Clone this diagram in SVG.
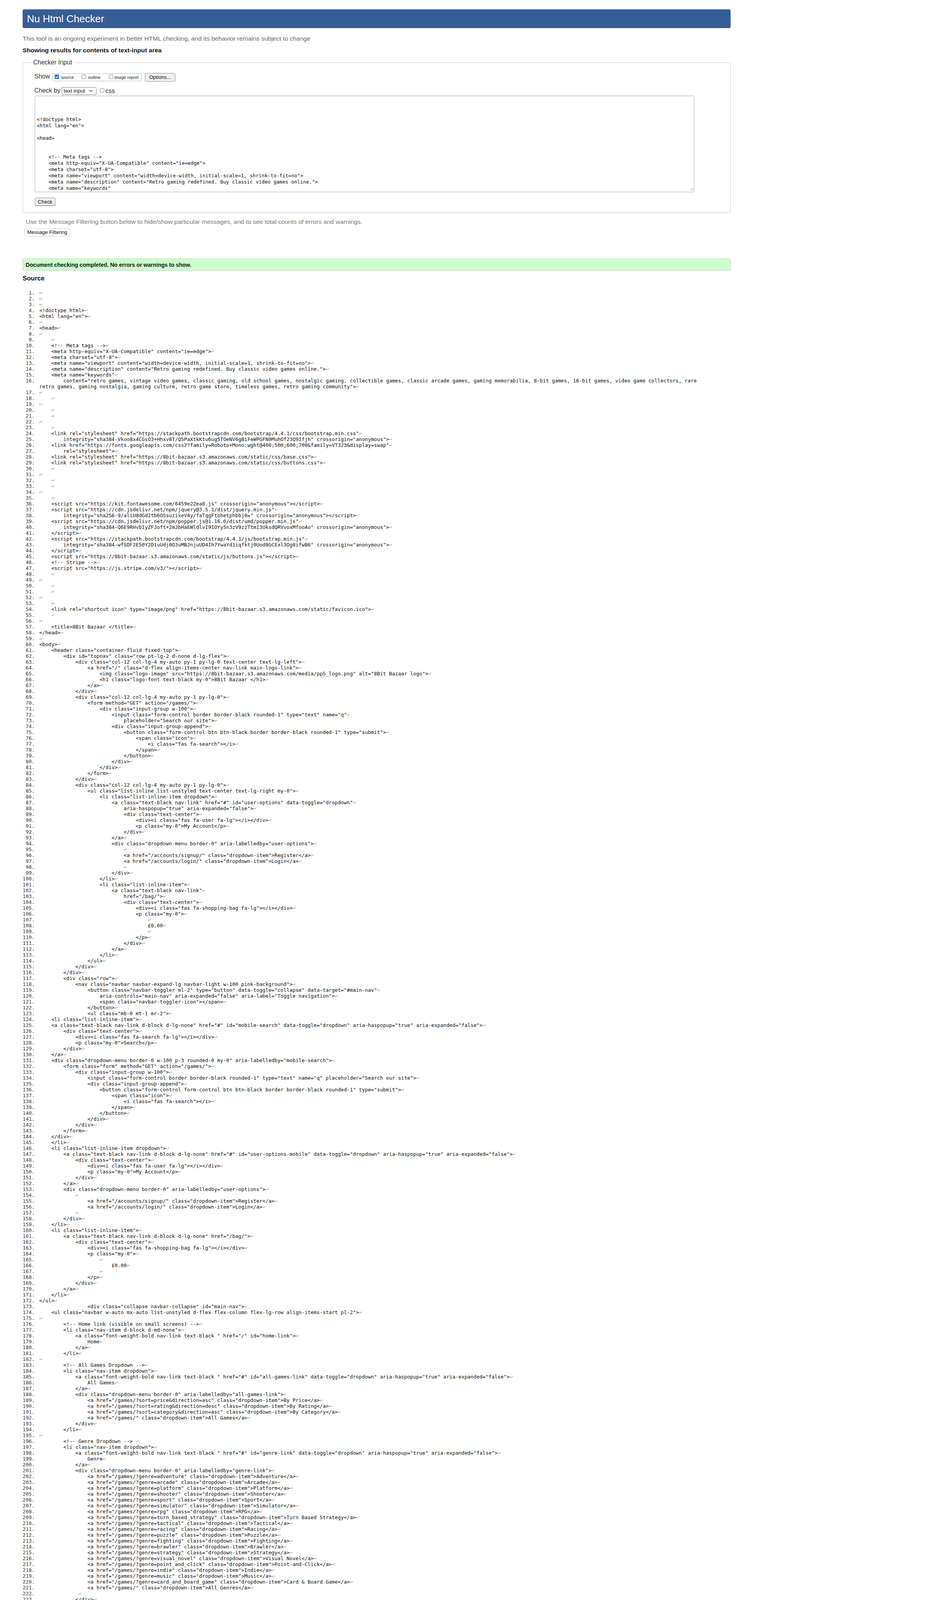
<svg xmlns="http://www.w3.org/2000/svg" width="2374" height="7690" viewBox="0 0 2374 7690">
<style>
.s{font-family:"Liberation Sans",Arial,sans-serif}
.c{font-family:"DejaVu Sans Mono","Liberation Mono",monospace;font-size:12.83px;fill:#111}
.n{font-family:"DejaVu Sans Mono","Liberation Mono",monospace;font-size:12.83px;fill:#333;text-anchor:end}
.ta{font-family:"DejaVu Sans Mono","Liberation Mono",monospace;font-size:12.6px;fill:#111}
.r{fill:#999}
.btn{fill:#efefef;stroke:#8f8f8f;stroke-width:1}
.cb{fill:#fff;stroke:#767676;stroke-width:1}
.gray{fill:#666}
.lnk{fill:#2b5ca8}
</style>
<rect width="2374" height="7690" fill="#fff"/>
<g id="header">
<rect x="58" y="24" width="1813" height="48" rx="4" fill="#365D95"/>
<text class="s" x="69" y="57" font-size="26" fill="#fff">Nu Html Checker</text>
</g>
<g id="intro">
<text class="s gray" x="58" y="104" font-size="15" textLength="737" lengthAdjust="spacingAndGlyphs">This tool is an ongoing experiment in better HTML checking, and its behavior remains subject to change</text>
<text class="s" x="58" y="134" font-size="15" font-weight="bold" fill="#111" textLength="356" lengthAdjust="spacingAndGlyphs">Showing results for contents of text-input area</text>
</g>
<g id="checker-input">
<rect x="58.5" y="160.5" width="1812" height="384" rx="3" fill="none" stroke="#ccc"/>
<rect x="82" y="152" width="108" height="16" fill="#fff"/>
<text class="s" x="85" y="165" font-size="16" fill="#333">Checker Input</text>
<text class="s" x="88" y="201" font-size="16" fill="#333">Show</text>
<rect x="134.5" y="188.5" width="228" height="19" rx="3" fill="none" stroke="#bbb"/>
<rect x="140" y="191" width="11" height="11" rx="2" fill="#0075ff"/>
<path d="M142.3 196.5 l2.4 2.5 l4.3 -5" fill="none" stroke="#fff" stroke-width="1.8"/>
<text class="s" x="156" y="202" font-size="11" fill="#222">source</text>
<rect class="cb" x="209.5" y="191.5" width="10" height="10" rx="2"/>
<text class="s" x="225" y="202" font-size="11" fill="#222">outline</text>
<rect class="cb" x="279.5" y="191.5" width="10" height="10" rx="2"/>
<text class="s" x="293" y="202" font-size="11" fill="#222">image report</text>
<rect class="btn" x="371.5" y="187.5" width="77" height="21" rx="2"/>
<text class="s" x="410" y="202" font-size="13" text-anchor="middle" fill="#111">Options...</text>
<text class="s" x="88" y="237" font-size="16" fill="#333">Check by</text>
<rect x="158.5" y="223.5" width="88" height="19" rx="2" fill="#fff" stroke="#767676"/>
<text class="s" x="163" y="237" font-size="13.5" fill="#111">text input</text>
<path d="M229.5 230.5 l3.5 3.5 l3.5 -3.5" fill="none" stroke="#222" stroke-width="1.3"/>
<rect class="cb" x="256.5" y="226.5" width="10" height="10" rx="2"/>
<text class="s" x="270" y="238" font-size="16" fill="#333">css</text>
<rect x="89.5" y="245.5" width="1688" height="246" rx="2" fill="#fff" stroke="#aaa"/>
<path d="M1767 488 l8 -8 M1771 488 l4 -4" stroke="#888" stroke-width="1"/>
<text class="ta" x="94" y="309.5">&lt;!doctype html&gt;</text>
<text class="ta" x="94" y="325.5">&lt;html lang="en"&gt;</text>
<text class="ta" x="94" y="357.5">&lt;head&gt;</text>
<text class="ta" x="124.2" y="405.5">&lt;!-- Meta tags --&gt;</text>
<text class="ta" x="124.2" y="421.5">&lt;meta http-equiv="X-UA-Compatible" content="ie=edge"&gt;</text>
<text class="ta" x="124.2" y="437.5">&lt;meta charset="utf-8"&gt;</text>
<text class="ta" x="124.2" y="453.5">&lt;meta name="viewport" content="width=device-width, initial-scale=1, shrink-to-fit=no"&gt;</text>
<text class="ta" x="124.2" y="469.5">&lt;meta name="description" content="Retro gaming redefined. Buy classic video games online."&gt;</text>
<text class="ta" x="124.2" y="485.5">&lt;meta name="keywords"</text>
<rect class="btn" x="89.5" y="506.5" width="52" height="20" rx="2"/>
<line x1="90" y1="526.5" x2="141" y2="526.5" stroke="#666"/>
<text class="s" x="115.5" y="521" font-size="13" text-anchor="middle" fill="#111">Check</text>
</g>
<g id="message-filtering">
<text class="s" x="66" y="573" font-size="15" fill="#777" textLength="862" lengthAdjust="spacingAndGlyphs">Use the Message Filtering button below to hide/show particular messages, and to see total counts of errors and warnings.</text>
<rect x="62.5" y="585.5" width="117" height="19" rx="4" fill="#fff" stroke="#ccc"/>
<text class="s" x="121" y="599" font-size="13" text-anchor="middle" fill="#111">Message Filtering</text>
</g>
<g id="status">
<rect x="58.5" y="662.5" width="1812" height="30" rx="3" fill="#ccffcc" stroke="#b3d9b3"/>
<text class="s" x="66" y="683" font-size="15" font-weight="bold" fill="#111" textLength="424" lengthAdjust="spacingAndGlyphs">Document checking completed. No errors or warnings to show.</text>
</g>
<g id="source">
<text class="s" x="58" y="718" font-size="16.5" font-weight="bold" fill="#111">Source</text>
<g id="line-numbers" class="n">
<text x="89" y="753.5">1.</text><text x="89" y="768.5">2.</text><text x="89" y="783.5">3.</text><text x="89" y="798.5">4.</text><text x="89" y="813.5">5.</text><text x="89" y="828.5">6.</text><text x="89" y="843.5">7.</text><text x="89" y="858.5">8.</text><text x="89" y="873.5">9.</text><text x="89" y="888.5">10.</text><text x="89" y="903.5">11.</text><text x="89" y="918.5">12.</text><text x="89" y="933.5">13.</text><text x="89" y="948.5">14.</text><text x="89" y="963.5">15.</text><text x="89" y="978.5">16.</text>
<text x="89" y="1008.5">17.</text><text x="89" y="1023.5">18.</text><text x="89" y="1038.5">19.</text><text x="89" y="1053.5">20.</text><text x="89" y="1068.5">21.</text><text x="89" y="1083.5">22.</text><text x="89" y="1098.5">23.</text><text x="89" y="1113.5">24.</text><text x="89" y="1128.5">25.</text><text x="89" y="1143.5">26.</text><text x="89" y="1158.5">27.</text><text x="89" y="1173.5">28.</text><text x="89" y="1188.5">29.</text><text x="89" y="1203.5">30.</text><text x="89" y="1218.5">31.</text><text x="89" y="1233.5">32.</text><text x="89" y="1248.5">33.</text><text x="89" y="1263.5">34.</text><text x="89" y="1278.5">35.</text><text x="89" y="1293.5">36.</text><text x="89" y="1308.5">37.</text><text x="89" y="1323.5">38.</text><text x="89" y="1338.5">39.</text><text x="89" y="1353.5">40.</text>
<text x="89" y="1368.5">41.</text><text x="89" y="1383.5">42.</text><text x="89" y="1398.5">43.</text><text x="89" y="1413.5">44.</text><text x="89" y="1428.5">45.</text><text x="89" y="1443.5">46.</text><text x="89" y="1458.5">47.</text><text x="89" y="1473.5">48.</text><text x="89" y="1488.5">49.</text><text x="89" y="1503.5">50.</text><text x="89" y="1518.5">51.</text><text x="89" y="1533.5">52.</text><text x="89" y="1548.5">53.</text><text x="89" y="1563.5">54.</text><text x="89" y="1578.5">55.</text><text x="89" y="1593.5">56.</text><text x="89" y="1608.5">57.</text><text x="89" y="1623.5">58.</text><text x="89" y="1638.5">59.</text><text x="89" y="1653.5">60.</text>
<text x="89" y="1668.5">61.</text><text x="89" y="1683.5">62.</text><text x="89" y="1698.5">63.</text><text x="89" y="1713.5">64.</text><text x="89" y="1728.5">65.</text><text x="89" y="1743.5">66.</text><text x="89" y="1758.5">67.</text><text x="89" y="1773.5">68.</text><text x="89" y="1788.5">69.</text><text x="89" y="1803.5">70.</text><text x="89" y="1818.5">71.</text><text x="89" y="1833.5">72.</text><text x="89" y="1848.5">73.</text><text x="89" y="1863.5">74.</text><text x="89" y="1878.5">75.</text><text x="89" y="1893.5">76.</text><text x="89" y="1908.5">77.</text><text x="89" y="1923.5">78.</text><text x="89" y="1938.5">79.</text><text x="89" y="1953.5">80.</text>
<text x="89" y="1968.5">81.</text><text x="89" y="1983.5">82.</text><text x="89" y="1998.5">83.</text><text x="89" y="2013.5">84.</text><text x="89" y="2028.5">85.</text><text x="89" y="2043.5">86.</text><text x="89" y="2058.5">87.</text><text x="89" y="2073.5">88.</text><text x="89" y="2088.5">89.</text><text x="89" y="2103.5">90.</text><text x="89" y="2118.5">91.</text><text x="89" y="2133.5">92.</text><text x="89" y="2148.5">93.</text><text x="89" y="2163.5">94.</text><text x="89" y="2178.5">95.</text><text x="89" y="2193.5">96.</text><text x="89" y="2208.5">97.</text><text x="89" y="2223.5">98.</text><text x="89" y="2238.5">99.</text><text x="89" y="2253.5">100.</text>
<text x="89" y="2268.5">101.</text><text x="89" y="2283.5">102.</text><text x="89" y="2298.5">103.</text><text x="89" y="2313.5">104.</text><text x="89" y="2328.5">105.</text><text x="89" y="2343.5">106.</text><text x="89" y="2358.5">107.</text><text x="89" y="2373.5">108.</text><text x="89" y="2388.5">109.</text><text x="89" y="2403.5">110.</text><text x="89" y="2418.5">111.</text><text x="89" y="2433.5">112.</text><text x="89" y="2448.5">113.</text><text x="89" y="2463.5">114.</text><text x="89" y="2478.5">115.</text><text x="89" y="2493.5">116.</text><text x="89" y="2508.5">117.</text><text x="89" y="2523.5">118.</text><text x="89" y="2538.5">119.</text><text x="89" y="2553.5">120.</text>
<text x="89" y="2568.5">121.</text><text x="89" y="2583.5">122.</text><text x="89" y="2598.5">123.</text><text x="89" y="2613.5">124.</text><text x="89" y="2628.5">125.</text><text x="89" y="2643.5">126.</text><text x="89" y="2658.5">127.</text><text x="89" y="2673.5">128.</text><text x="89" y="2688.5">129.</text><text x="89" y="2703.5">130.</text><text x="89" y="2718.5">131.</text><text x="89" y="2733.5">132.</text><text x="89" y="2748.5">133.</text><text x="89" y="2763.5">134.</text><text x="89" y="2778.5">135.</text><text x="89" y="2793.5">136.</text><text x="89" y="2808.5">137.</text><text x="89" y="2823.5">138.</text><text x="89" y="2838.5">139.</text><text x="89" y="2853.5">140.</text>
<text x="89" y="2868.5">141.</text><text x="89" y="2883.5">142.</text><text x="89" y="2898.5">143.</text><text x="89" y="2913.5">144.</text><text x="89" y="2928.5">145.</text><text x="89" y="2943.5">146.</text><text x="89" y="2958.5">147.</text><text x="89" y="2973.5">148.</text><text x="89" y="2988.5">149.</text><text x="89" y="3003.5">150.</text><text x="89" y="3018.5">151.</text><text x="89" y="3033.5">152.</text><text x="89" y="3048.5">153.</text><text x="89" y="3063.5">154.</text><text x="89" y="3078.5">155.</text><text x="89" y="3093.5">156.</text><text x="89" y="3108.5">157.</text><text x="89" y="3123.5">158.</text><text x="89" y="3138.5">159.</text><text x="89" y="3153.5">160.</text>
<text x="89" y="3168.5">161.</text><text x="89" y="3183.5">162.</text><text x="89" y="3198.5">163.</text><text x="89" y="3213.5">164.</text><text x="89" y="3228.5">165.</text><text x="89" y="3243.5">166.</text><text x="89" y="3258.5">167.</text><text x="89" y="3273.5">168.</text><text x="89" y="3288.5">169.</text><text x="89" y="3303.5">170.</text><text x="89" y="3318.5">171.</text><text x="89" y="3333.5">172.</text><text x="89" y="3348.5">173.</text><text x="89" y="3363.5">174.</text><text x="89" y="3378.5">175.</text><text x="89" y="3393.5">176.</text><text x="89" y="3408.5">177.</text><text x="89" y="3423.5">178.</text><text x="89" y="3438.5">179.</text><text x="89" y="3453.5">180.</text>
<text x="89" y="3468.5">181.</text><text x="89" y="3483.5">182.</text><text x="89" y="3498.5">183.</text><text x="89" y="3513.5">184.</text><text x="89" y="3528.5">185.</text><text x="89" y="3543.5">186.</text><text x="89" y="3558.5">187.</text><text x="89" y="3573.5">188.</text><text x="89" y="3588.5">189.</text><text x="89" y="3603.5">190.</text><text x="89" y="3618.5">191.</text><text x="89" y="3633.5">192.</text><text x="89" y="3648.5">193.</text><text x="89" y="3663.5">194.</text><text x="89" y="3678.5">195.</text><text x="89" y="3693.5">196.</text><text x="89" y="3708.5">197.</text><text x="89" y="3723.5">198.</text><text x="89" y="3738.5">199.</text><text x="89" y="3753.5">200.</text>
<text x="89" y="3768.5">201.</text><text x="89" y="3783.5">202.</text><text x="89" y="3798.5">203.</text><text x="89" y="3813.5">204.</text><text x="89" y="3828.5">205.</text><text x="89" y="3843.5">206.</text><text x="89" y="3858.5">207.</text><text x="89" y="3873.5">208.</text><text x="89" y="3888.5">209.</text><text x="89" y="3903.5">210.</text><text x="89" y="3918.5">211.</text><text x="89" y="3933.5">212.</text><text x="89" y="3948.5">213.</text><text x="89" y="3963.5">214.</text><text x="89" y="3978.5">215.</text><text x="89" y="3993.5">216.</text><text x="89" y="4008.5">217.</text><text x="89" y="4023.5">218.</text><text x="89" y="4038.5">219.</text><text x="89" y="4053.5">220.</text>
<text x="89" y="4068.5">221.</text><text x="89" y="4083.5">222.</text><text x="89" y="4098.5">223.</text><text x="89" y="4113.5">224.</text><text x="89" y="4128.5">225.</text><text x="89" y="4143.5">226.</text><text x="89" y="4158.5">227.</text><text x="89" y="4173.5">228.</text><text x="89" y="4188.5">229.</text><text x="89" y="4203.5">230.</text><text x="89" y="4218.5">231.</text><text x="89" y="4233.5">232.</text><text x="89" y="4248.5">233.</text><text x="89" y="4263.5">234.</text><text x="89" y="4278.5">235.</text><text x="89" y="4293.5">236.</text><text x="89" y="4308.5">237.</text><text x="89" y="4323.5">238.</text><text x="89" y="4338.5">239.</text><text x="89" y="4353.5">240.</text>
<text x="89" y="4368.5">241.</text><text x="89" y="4383.5">242.</text><text x="89" y="4398.5">243.</text><text x="89" y="4413.5">244.</text><text x="89" y="4428.5">245.</text><text x="89" y="4443.5">246.</text><text x="89" y="4458.5">247.</text><text x="89" y="4473.5">248.</text><text x="89" y="4488.5">249.</text><text x="89" y="4503.5">250.</text><text x="89" y="4518.5">251.</text><text x="89" y="4533.5">252.</text><text x="89" y="4548.5">253.</text><text x="89" y="4563.5">254.</text><text x="89" y="4578.5">255.</text><text x="89" y="4593.5">256.</text><text x="89" y="4608.5">257.</text><text x="89" y="4623.5">258.</text><text x="89" y="4638.5">259.</text><text x="89" y="4653.5">260.</text>
<text x="89" y="4668.5">261.</text><text x="89" y="4683.5">262.</text><text x="89" y="4698.5">263.</text><text x="89" y="4713.5">264.</text><text x="89" y="4728.5">265.</text><text x="89" y="4743.5">266.</text><text x="89" y="4758.5">267.</text><text x="89" y="4773.5">268.</text><text x="89" y="4788.5">269.</text><text x="89" y="4803.5">270.</text><text x="89" y="4818.5">271.</text><text x="89" y="4833.5">272.</text><text x="89" y="4848.5">273.</text><text x="89" y="4863.5">274.</text><text x="89" y="4878.5">275.</text><text x="89" y="4893.5">276.</text><text x="89" y="4908.5">277.</text><text x="89" y="4923.5">278.</text><text x="89" y="4938.5">279.</text><text x="89" y="4953.5">280.</text>
<text x="89" y="4968.5">281.</text><text x="89" y="4983.5">282.</text><text x="89" y="4998.5">283.</text><text x="89" y="5013.5">284.</text><text x="89" y="5028.5">285.</text><text x="89" y="5043.5">286.</text><text x="89" y="5058.5">287.</text><text x="89" y="5073.5">288.</text><text x="89" y="5088.5">289.</text><text x="89" y="5103.5">290.</text><text x="89" y="5118.5">291.</text><text x="89" y="5133.5">292.</text><text x="89" y="5148.5">293.</text><text x="89" y="5163.5">294.</text><text x="89" y="5178.5">295.</text><text x="89" y="5193.5">296.</text><text x="89" y="5208.5">297.</text><text x="89" y="5223.5">298.</text><text x="89" y="5238.5">299.</text><text x="89" y="5253.5">300.</text>
<text x="89" y="5268.5">301.</text><text x="89" y="5283.5">302.</text><text x="89" y="5298.5">303.</text><text x="89" y="5313.5">304.</text><text x="89" y="5328.5">305.</text><text x="89" y="5343.5">306.</text><text x="89" y="5358.5">307.</text><text x="89" y="5373.5">308.</text><text x="89" y="5388.5">309.</text><text x="89" y="5403.5">310.</text><text x="89" y="5418.5">311.</text><text x="89" y="5433.5">312.</text><text x="89" y="5448.5">313.</text><text x="89" y="5463.5">314.</text><text x="89" y="5478.5">315.</text><text x="89" y="5493.5">316.</text><text x="89" y="5508.5">317.</text><text x="89" y="5523.5">318.</text><text x="89" y="5538.5">319.</text><text x="89" y="5553.5">320.</text>
<text x="89" y="5568.5">321.</text><text x="89" y="5583.5">322.</text><text x="89" y="5598.5">323.</text><text x="89" y="5613.5">324.</text><text x="89" y="5628.5">325.</text><text x="89" y="5643.5">326.</text><text x="89" y="5658.5">327.</text><text x="89" y="5673.5">328.</text><text x="89" y="5688.5">329.</text><text x="89" y="5703.5">330.</text><text x="89" y="5718.5">331.</text><text x="89" y="5733.5">332.</text><text x="89" y="5748.5">333.</text><text x="89" y="5763.5">334.</text><text x="89" y="5778.5">335.</text><text x="89" y="5793.5">336.</text><text x="89" y="5808.5">337.</text><text x="89" y="5823.5">338.</text><text x="89" y="5838.5">339.</text><text x="89" y="5853.5">340.</text>
<text x="89" y="5868.5">341.</text><text x="89" y="5883.5">342.</text><text x="89" y="5898.5">343.</text>
</g>
<g id="code" class="c">
<text x="100.5" y="753.5"><tspan class="r">↩</tspan></text>
<text x="100.5" y="768.5"><tspan class="r">↩</tspan></text>
<text x="100.5" y="783.5"><tspan class="r">↩</tspan></text>
<text x="100.5" y="798.5">&lt;!doctype html&gt;<tspan class="r">↩</tspan></text>
<text x="100.5" y="813.5">&lt;html lang="en"&gt;<tspan class="r">↩</tspan></text>
<text x="100.5" y="828.5"><tspan class="r">↩</tspan></text>
<text x="100.5" y="843.5">&lt;head&gt;<tspan class="r">↩</tspan></text>
<text x="100.5" y="858.5"><tspan class="r">↩</tspan></text>
<text x="131.4" y="873.5"><tspan class="r">↩</tspan></text>
<text x="131.4" y="888.5">&lt;!-- Meta tags --&gt;<tspan class="r">↩</tspan></text>
<text x="131.4" y="903.5">&lt;meta http-equiv="X-UA-Compatible" content="ie=edge"&gt;<tspan class="r">↩</tspan></text>
<text x="131.4" y="918.5">&lt;meta charset="utf-8"&gt;<tspan class="r">↩</tspan></text>
<text x="131.4" y="933.5">&lt;meta name="viewport" content="width=device-width, initial-scale=1, shrink-to-fit=no"&gt;<tspan class="r">↩</tspan></text>
<text x="131.4" y="948.5">&lt;meta name="description" content="Retro gaming redefined. Buy classic video games online."&gt;<tspan class="r">↩</tspan></text>
<text x="131.4" y="963.5">&lt;meta name="keywords"<tspan class="r">↩</tspan></text>
<text x="162.3" y="978.5">content="retro games, vintage video games, classic gaming, old school games, nostalgic gaming, collectible games, classic arcade games, gaming memorabilia, 8-bit games, 16-bit games, video game collectors, rare</text>
<text x="100.5" y="993.5">retro games, gaming nostalgia, gaming culture, retro game store, timeless games, retro gaming community"&gt;<tspan class="r">↩</tspan></text>
<text x="100.5" y="1008.5"><tspan class="r">↩</tspan></text>
<text x="131.4" y="1023.5"><tspan class="r">↩</tspan></text>
<text x="100.5" y="1038.5"><tspan class="r">↩</tspan></text>
<text x="131.4" y="1053.5"><tspan class="r">↩</tspan></text>
<text x="131.4" y="1068.5"><tspan class="r">↩</tspan></text>
<text x="100.5" y="1083.5"><tspan class="r">↩</tspan></text>
<text x="131.4" y="1098.5"><tspan class="r">↩</tspan></text>
<text x="131.4" y="1113.5">&lt;link rel="stylesheet" href="https://stackpath.bootstrapcdn.com/bootstrap/4.4.1/css/bootstrap.min.css"<tspan class="r">↩</tspan></text>
<text x="162.3" y="1128.5">integrity="sha384-Vkoo8x4CGsO3+Hhxv8T/Q5PaXtkKtu6ug5TOeNV6gBiFeWPGFN9MuhOf23Q9Ifjh" crossorigin="anonymous"&gt;<tspan class="r">↩</tspan></text>
<text x="131.4" y="1143.5">&lt;link href="https://fonts.googleapis.com/css2?family=Roboto+Mono:wght@400;500;600;700&amp;family=VT323&amp;display=swap"<tspan class="r">↩</tspan></text>
<text x="162.3" y="1158.5">rel="stylesheet"&gt;<tspan class="r">↩</tspan></text>
<text x="131.4" y="1173.5">&lt;link rel="stylesheet" href="https://8bit-bazaar.s3.amazonaws.com/static/css/base.css"&gt;<tspan class="r">↩</tspan></text>
<text x="131.4" y="1188.5">&lt;link rel="stylesheet" href="https://8bit-bazaar.s3.amazonaws.com/static/css/buttons.css"&gt;<tspan class="r">↩</tspan></text>
<text x="131.4" y="1203.5"><tspan class="r">↩</tspan></text>
<text x="100.5" y="1218.5"><tspan class="r">↩</tspan></text>
<text x="131.4" y="1233.5"><tspan class="r">↩</tspan></text>
<text x="131.4" y="1248.5"><tspan class="r">↩</tspan></text>
<text x="100.5" y="1263.5"><tspan class="r">↩</tspan></text>
<text x="131.4" y="1278.5"><tspan class="r">↩</tspan></text>
<text x="131.4" y="1293.5">&lt;script src="https://kit.fontawesome.com/6459e22ea8.js" crossorigin="anonymous"&gt;&lt;/script&gt;<tspan class="r">↩</tspan></text>
<text x="131.4" y="1308.5">&lt;script src="https://cdn.jsdelivr.net/npm/jquery@3.5.1/dist/jquery.min.js"<tspan class="r">↩</tspan></text>
<text x="162.3" y="1323.5">integrity="sha256-9/aliU8dGd2tb6OSsuzixeV4y/faTqgFtohetphbbj0=" crossorigin="anonymous"&gt;&lt;/script&gt;<tspan class="r">↩</tspan></text>
<text x="131.4" y="1338.5">&lt;script src="https://cdn.jsdelivr.net/npm/popper.js@1.16.0/dist/umd/popper.min.js"<tspan class="r">↩</tspan></text>
<text x="162.3" y="1353.5">integrity="sha384-Q6E9RHvbIyZFJoft+2mJbHaEWldlvI9IOYy5n3zV9zzTtmI3UksdQRVvoxMfooAo" crossorigin="anonymous"&gt;<tspan class="r">↩</tspan></text>
<text x="131.4" y="1368.5">&lt;/script&gt;<tspan class="r">↩</tspan></text>
<text x="131.4" y="1383.5">&lt;script src="https://stackpath.bootstrapcdn.com/bootstrap/4.4.1/js/bootstrap.min.js"<tspan class="r">↩</tspan></text>
<text x="162.3" y="1398.5">integrity="sha384-wfSDF2E50Y2D1uUdj0O3uMBJnjuUD4Ih7YwaYd1iqfktj0Uod8GCExl3Og8ifwB6" crossorigin="anonymous"&gt;<tspan class="r">↩</tspan></text>
<text x="131.4" y="1413.5">&lt;/script&gt;<tspan class="r">↩</tspan></text>
<text x="131.4" y="1428.5">&lt;script src="https://8bit-bazaar.s3.amazonaws.com/static/js/buttons.js"&gt;&lt;/script&gt;<tspan class="r">↩</tspan></text>
<text x="131.4" y="1443.5">&lt;!-- Stripe --&gt;<tspan class="r">↩</tspan></text>
<text x="131.4" y="1458.5">&lt;script src="https://js.stripe.com/v3/"&gt;&lt;/script&gt;<tspan class="r">↩</tspan></text>
<text x="131.4" y="1473.5"><tspan class="r">↩</tspan></text>
<text x="100.5" y="1488.5"><tspan class="r">↩</tspan></text>
<text x="131.4" y="1503.5"><tspan class="r">↩</tspan></text>
<text x="131.4" y="1518.5"><tspan class="r">↩</tspan></text>
<text x="100.5" y="1533.5"><tspan class="r">↩</tspan></text>
<text x="131.4" y="1548.5"><tspan class="r">↩</tspan></text>
<text x="131.4" y="1563.5">&lt;link rel="shortcut icon" type="image/png" href="https://8bit-bazaar.s3.amazonaws.com/static/favicon.ico"&gt;<tspan class="r">↩</tspan></text>
<text x="131.4" y="1578.5"><tspan class="r">↩</tspan></text>
<text x="100.5" y="1593.5"><tspan class="r">↩</tspan></text>
<text x="131.4" y="1608.5">&lt;title&gt;8Bit Bazaar &lt;/title&gt;<tspan class="r">↩</tspan></text>
<text x="100.5" y="1623.5">&lt;/head&gt;<tspan class="r">↩</tspan></text>
<text x="100.5" y="1638.5"><tspan class="r">↩</tspan></text>
<text x="100.5" y="1653.5">&lt;body&gt;<tspan class="r">↩</tspan></text>
<text x="131.4" y="1668.5">&lt;header class="container-fluid fixed-top"&gt;<tspan class="r">↩</tspan></text>
<text x="162.3" y="1683.5">&lt;div id="topnav" class="row pt-lg-2 d-none d-lg-flex"&gt;<tspan class="r">↩</tspan></text>
<text x="193.1" y="1698.5">&lt;div class="col-12 col-lg-4 my-auto py-1 py-lg-0 text-center text-lg-left"&gt;<tspan class="r">↩</tspan></text>
<text x="224" y="1713.5">&lt;a href="/" class="d-flex align-items-center nav-link main-logo-link"&gt;<tspan class="r">↩</tspan></text>
<text x="254.9" y="1728.5">&lt;img class="logo-image" src="https://8bit-bazaar.s3.amazonaws.com/media/pp5_logo.png" alt="8Bit Bazaar logo"&gt;<tspan class="r">↩</tspan></text>
<text x="254.9" y="1743.5">&lt;h1 class="logo-font text-black my-0"&gt;8Bit Bazaar &lt;/h1&gt;<tspan class="r">↩</tspan></text>
<text x="224" y="1758.5">&lt;/a&gt;<tspan class="r">↩</tspan></text>
<text x="193.1" y="1773.5">&lt;/div&gt;<tspan class="r">↩</tspan></text>
<text x="193.1" y="1788.5">&lt;div class="col-12 col-lg-4 my-auto py-1 py-lg-0"&gt;<tspan class="r">↩</tspan></text>
<text x="224" y="1803.5">&lt;form method="GET" action="/games/"&gt;<tspan class="r">↩</tspan></text>
<text x="254.9" y="1818.5">&lt;div class="input-group w-100"&gt;<tspan class="r">↩</tspan></text>
<text x="285.8" y="1833.5">&lt;input class="form-control border border-black rounded-1" type="text" name="q"<tspan class="r">↩</tspan></text>
<text x="316.7" y="1848.5">placeholder="Search our site"&gt;<tspan class="r">↩</tspan></text>
<text x="285.8" y="1863.5">&lt;div class="input-group-append"&gt;<tspan class="r">↩</tspan></text>
<text x="316.7" y="1878.5">&lt;button class="form-control btn btn-black border border-black rounded-1" type="submit"&gt;<tspan class="r">↩</tspan></text>
<text x="347.5" y="1893.5">&lt;span class="icon"&gt;<tspan class="r">↩</tspan></text>
<text x="378.4" y="1908.5">&lt;i class="fas fa-search"&gt;&lt;/i&gt;<tspan class="r">↩</tspan></text>
<text x="347.5" y="1923.5">&lt;/span&gt;<tspan class="r">↩</tspan></text>
<text x="316.7" y="1938.5">&lt;/button&gt;<tspan class="r">↩</tspan></text>
<text x="285.8" y="1953.5">&lt;/div&gt;<tspan class="r">↩</tspan></text>
<text x="254.9" y="1968.5">&lt;/div&gt;<tspan class="r">↩</tspan></text>
<text x="224" y="1983.5">&lt;/form&gt;<tspan class="r">↩</tspan></text>
<text x="193.1" y="1998.5">&lt;/div&gt;<tspan class="r">↩</tspan></text>
<text x="193.1" y="2013.5">&lt;div class="col-12 col-lg-4 my-auto py-1 py-lg-0"&gt;<tspan class="r">↩</tspan></text>
<text x="224" y="2028.5">&lt;ul class="list-inline list-unstyled text-center text-lg-right my-0"&gt;<tspan class="r">↩</tspan></text>
<text x="254.9" y="2043.5">&lt;li class="list-inline-item dropdown"&gt;<tspan class="r">↩</tspan></text>
<text x="285.8" y="2058.5">&lt;a class="text-black nav-link" href="#" id="user-options" data-toggle="dropdown"<tspan class="r">↩</tspan></text>
<text x="316.7" y="2073.5">aria-haspopup="true" aria-expanded="false"&gt;<tspan class="r">↩</tspan></text>
<text x="316.7" y="2088.5">&lt;div class="text-center"&gt;<tspan class="r">↩</tspan></text>
<text x="347.5" y="2103.5">&lt;div&gt;&lt;i class="fas fa-user fa-lg"&gt;&lt;/i&gt;&lt;/div&gt;<tspan class="r">↩</tspan></text>
<text x="347.5" y="2118.5">&lt;p class="my-0"&gt;My Account&lt;/p&gt;<tspan class="r">↩</tspan></text>
<text x="316.7" y="2133.5">&lt;/div&gt;<tspan class="r">↩</tspan></text>
<text x="285.8" y="2148.5">&lt;/a&gt;<tspan class="r">↩</tspan></text>
<text x="285.8" y="2163.5">&lt;div class="dropdown-menu border-0" aria-labelledby="user-options"&gt;<tspan class="r">↩</tspan></text>
<text x="316.7" y="2178.5"><tspan class="r">↩</tspan></text>
<text x="316.7" y="2193.5">&lt;a href="/accounts/signup/" class="dropdown-item"&gt;Register&lt;/a&gt;<tspan class="r">↩</tspan></text>
<text x="316.7" y="2208.5">&lt;a href="/accounts/login/" class="dropdown-item"&gt;Login&lt;/a&gt;<tspan class="r">↩</tspan></text>
<text x="316.7" y="2223.5"><tspan class="r">↩</tspan></text>
<text x="285.8" y="2238.5">&lt;/div&gt;<tspan class="r">↩</tspan></text>
<text x="254.9" y="2253.5">&lt;/li&gt;<tspan class="r">↩</tspan></text>
<text x="254.9" y="2268.5">&lt;li class="list-inline-item"&gt;<tspan class="r">↩</tspan></text>
<text x="285.8" y="2283.5">&lt;a class="text-black nav-link"<tspan class="r">↩</tspan></text>
<text x="316.7" y="2298.5">href="/bag/"&gt;<tspan class="r">↩</tspan></text>
<text x="316.7" y="2313.5">&lt;div class="text-center"&gt;<tspan class="r">↩</tspan></text>
<text x="347.5" y="2328.5">&lt;div&gt;&lt;i class="fas fa-shopping-bag fa-lg"&gt;&lt;/i&gt;&lt;/div&gt;<tspan class="r">↩</tspan></text>
<text x="347.5" y="2343.5">&lt;p class="my-0"&gt;<tspan class="r">↩</tspan></text>
<text x="378.4" y="2358.5"><tspan class="r">↩</tspan></text>
<text x="378.4" y="2373.5">£0.00<tspan class="r">↩</tspan></text>
<text x="378.4" y="2388.5"><tspan class="r">↩</tspan></text>
<text x="347.5" y="2403.5">&lt;/p&gt;<tspan class="r">↩</tspan></text>
<text x="316.7" y="2418.5">&lt;/div&gt;<tspan class="r">↩</tspan></text>
<text x="285.8" y="2433.5">&lt;/a&gt;<tspan class="r">↩</tspan></text>
<text x="254.9" y="2448.5">&lt;/li&gt;<tspan class="r">↩</tspan></text>
<text x="224" y="2463.5">&lt;/ul&gt;<tspan class="r">↩</tspan></text>
<text x="193.1" y="2478.5">&lt;/div&gt;<tspan class="r">↩</tspan></text>
<text x="162.3" y="2493.5">&lt;/div&gt;<tspan class="r">↩</tspan></text>
<text x="162.3" y="2508.5">&lt;div class="row"&gt;<tspan class="r">↩</tspan></text>
<text x="193.1" y="2523.5">&lt;nav class="navbar navbar-expand-lg navbar-light w-100 pink-background"&gt;<tspan class="r">↩</tspan></text>
<text x="224" y="2538.5">&lt;button class="navbar-toggler ml-2" type="button" data-toggle="collapse" data-target="#main-nav"<tspan class="r">↩</tspan></text>
<text x="254.9" y="2553.5">aria-controls="main-nav" aria-expanded="false" aria-label="Toggle navigation"&gt;<tspan class="r">↩</tspan></text>
<text x="254.9" y="2568.5">&lt;span class="navbar-toggler-icon"&gt;&lt;/span&gt;<tspan class="r">↩</tspan></text>
<text x="224" y="2583.5">&lt;/button&gt;<tspan class="r">↩</tspan></text>
<text x="224" y="2598.5">&lt;ul class="mb-0 mt-1 mr-2"&gt;<tspan class="r">↩</tspan></text>
<text x="131.4" y="2613.5">&lt;li class="list-inline-item"&gt;<tspan class="r">↩</tspan></text>
<text x="131.4" y="2628.5">&lt;a class="text-black nav-link d-block d-lg-none" href="#" id="mobile-search" data-toggle="dropdown" aria-haspopup="true" aria-expanded="false"&gt;<tspan class="r">↩</tspan></text>
<text x="162.3" y="2643.5">&lt;div class="text-center"&gt;<tspan class="r">↩</tspan></text>
<text x="193.1" y="2658.5">&lt;div&gt;&lt;i class="fas fa-search fa-lg"&gt;&lt;/i&gt;&lt;/div&gt;<tspan class="r">↩</tspan></text>
<text x="193.1" y="2673.5">&lt;p class="my-0"&gt;Search&lt;/p&gt;<tspan class="r">↩</tspan></text>
<text x="162.3" y="2688.5">&lt;/div&gt;<tspan class="r">↩</tspan></text>
<text x="131.4" y="2703.5">&lt;/a&gt;<tspan class="r">↩</tspan></text>
<text x="131.4" y="2718.5">&lt;div class="dropdown-menu border-0 w-100 p-3 rounded-0 my-0" aria-labelledby="mobile-search"&gt;<tspan class="r">↩</tspan></text>
<text x="162.3" y="2733.5">&lt;form class="form" method="GET" action="/games/"&gt;<tspan class="r">↩</tspan></text>
<text x="193.1" y="2748.5">&lt;div class="input-group w-100"&gt;<tspan class="r">↩</tspan></text>
<text x="224" y="2763.5">&lt;input class="form-control border border-black rounded-1" type="text" name="q" placeholder="Search our site"&gt;<tspan class="r">↩</tspan></text>
<text x="224" y="2778.5">&lt;div class="input-group-append"&gt;<tspan class="r">↩</tspan></text>
<text x="254.9" y="2793.5">&lt;button class="form-control form-control btn btn-black border border-black rounded-1" type="submit"&gt;<tspan class="r">↩</tspan></text>
<text x="285.8" y="2808.5">&lt;span class="icon"&gt;<tspan class="r">↩</tspan></text>
<text x="316.7" y="2823.5">&lt;i class="fas fa-search"&gt;&lt;/i&gt;<tspan class="r">↩</tspan></text>
<text x="285.8" y="2838.5">&lt;/span&gt;<tspan class="r">↩</tspan></text>
<text x="254.9" y="2853.5">&lt;/button&gt;<tspan class="r">↩</tspan></text>
<text x="224" y="2868.5">&lt;/div&gt;<tspan class="r">↩</tspan></text>
<text x="193.1" y="2883.5">&lt;/div&gt;<tspan class="r">↩</tspan></text>
<text x="162.3" y="2898.5">&lt;/form&gt;<tspan class="r">↩</tspan></text>
<text x="131.4" y="2913.5">&lt;/div&gt;<tspan class="r">↩</tspan></text>
<text x="131.4" y="2928.5">&lt;/li&gt;<tspan class="r">↩</tspan></text>
<text x="131.4" y="2943.5">&lt;li class="list-inline-item dropdown"&gt;<tspan class="r">↩</tspan></text>
<text x="162.3" y="2958.5">&lt;a class="text-black nav-link d-block d-lg-none" href="#" id="user-options-mobile" data-toggle="dropdown" aria-haspopup="true" aria-expanded="false"&gt;<tspan class="r">↩</tspan></text>
<text x="193.1" y="2973.5">&lt;div class="text-center"&gt;<tspan class="r">↩</tspan></text>
<text x="224" y="2988.5">&lt;div&gt;&lt;i class="fas fa-user fa-lg"&gt;&lt;/i&gt;&lt;/div&gt;<tspan class="r">↩</tspan></text>
<text x="224" y="3003.5">&lt;p class="my-0"&gt;My Account&lt;/p&gt;<tspan class="r">↩</tspan></text>
<text x="193.1" y="3018.5">&lt;/div&gt;<tspan class="r">↩</tspan></text>
<text x="162.3" y="3033.5">&lt;/a&gt;<tspan class="r">↩</tspan></text>
<text x="162.3" y="3048.5">&lt;div class="dropdown-menu border-0" aria-labelledby="user-options"&gt;<tspan class="r">↩</tspan></text>
<text x="193.1" y="3063.5"><tspan class="r">↩</tspan></text>
<text x="224" y="3078.5">&lt;a href="/accounts/signup/" class="dropdown-item"&gt;Register&lt;/a&gt;<tspan class="r">↩</tspan></text>
<text x="224" y="3093.5">&lt;a href="/accounts/login/" class="dropdown-item"&gt;Login&lt;/a&gt;<tspan class="r">↩</tspan></text>
<text x="193.1" y="3108.5"><tspan class="r">↩</tspan></text>
<text x="162.3" y="3123.5">&lt;/div&gt;<tspan class="r">↩</tspan></text>
<text x="131.4" y="3138.5">&lt;/li&gt;<tspan class="r">↩</tspan></text>
<text x="131.4" y="3153.5">&lt;li class="list-inline-item"&gt;<tspan class="r">↩</tspan></text>
<text x="162.3" y="3168.5">&lt;a class="text-black nav-link d-block d-lg-none" href="/bag/"&gt;<tspan class="r">↩</tspan></text>
<text x="193.1" y="3183.5">&lt;div class="text-center"&gt;<tspan class="r">↩</tspan></text>
<text x="224" y="3198.5">&lt;div&gt;&lt;i class="fas fa-shopping-bag fa-lg"&gt;&lt;/i&gt;&lt;/div&gt;<tspan class="r">↩</tspan></text>
<text x="224" y="3213.5">&lt;p class="my-0"&gt;<tspan class="r">↩</tspan></text>
<text x="254.9" y="3228.5"><tspan class="r">↩</tspan></text>
<text x="285.8" y="3243.5">£0.00<tspan class="r">↩</tspan></text>
<text x="254.9" y="3258.5"><tspan class="r">↩</tspan></text>
<text x="224" y="3273.5">&lt;/p&gt;<tspan class="r">↩</tspan></text>
<text x="193.1" y="3288.5">&lt;/div&gt;<tspan class="r">↩</tspan></text>
<text x="162.3" y="3303.5">&lt;/a&gt;<tspan class="r">↩</tspan></text>
<text x="131.4" y="3318.5">&lt;/li&gt;<tspan class="r">↩</tspan></text>
<text x="100.5" y="3333.5">&lt;/ul&gt;<tspan class="r">↩</tspan></text>
<text x="224" y="3348.5">&lt;div class="collapse navbar-collapse" id="main-nav"&gt;<tspan class="r">↩</tspan></text>
<text x="131.4" y="3363.5">&lt;ul class="navbar w-auto mx-auto list-unstyled d-flex flex-column flex-lg-row align-items-start pl-2"&gt;<tspan class="r">↩</tspan></text>
<text x="100.5" y="3378.5"><tspan class="r">↩</tspan></text>
<text x="162.3" y="3393.5">&lt;!-- Home link (visible on small screens) --&gt;<tspan class="r">↩</tspan></text>
<text x="162.3" y="3408.5">&lt;li class="nav-item d-block d-md-none"&gt;<tspan class="r">↩</tspan></text>
<text x="193.1" y="3423.5">&lt;a class="font-weight-bold nav-link text-black " href="/" id="home-link"&gt;<tspan class="r">↩</tspan></text>
<text x="224" y="3438.5">Home<tspan class="r">↩</tspan></text>
<text x="193.1" y="3453.5">&lt;/a&gt;<tspan class="r">↩</tspan></text>
<text x="162.3" y="3468.5">&lt;/li&gt;<tspan class="r">↩</tspan></text>
<text x="100.5" y="3483.5"><tspan class="r">↩</tspan></text>
<text x="162.3" y="3498.5">&lt;!-- All Games Dropdown --&gt;<tspan class="r">↩</tspan></text>
<text x="162.3" y="3513.5">&lt;li class="nav-item dropdown"&gt;<tspan class="r">↩</tspan></text>
<text x="193.1" y="3528.5">&lt;a class="font-weight-bold nav-link text-black " href="#" id="all-games-link" data-toggle="dropdown" aria-haspopup="true" aria-expanded="false"&gt;<tspan class="r">↩</tspan></text>
<text x="224" y="3543.5">All Games<tspan class="r">↩</tspan></text>
<text x="193.1" y="3558.5">&lt;/a&gt;<tspan class="r">↩</tspan></text>
<text x="193.1" y="3573.5">&lt;div class="dropdown-menu border-0" aria-labelledby="all-games-link"&gt;<tspan class="r">↩</tspan></text>
<text x="224" y="3588.5">&lt;a href="/games/?sort=price&amp;direction=asc" class="dropdown-item"&gt;By Price&lt;/a&gt;<tspan class="r">↩</tspan></text>
<text x="224" y="3603.5">&lt;a href="/games/?sort=rating&amp;direction=desc" class="dropdown-item"&gt;By Rating&lt;/a&gt;<tspan class="r">↩</tspan></text>
<text x="224" y="3618.5">&lt;a href="/games/?sort=category&amp;direction=asc" class="dropdown-item"&gt;By Category&lt;/a&gt;<tspan class="r">↩</tspan></text>
<text x="224" y="3633.5">&lt;a href="/games/" class="dropdown-item"&gt;All Games&lt;/a&gt;<tspan class="r">↩</tspan></text>
<text x="193.1" y="3648.5">&lt;/div&gt;<tspan class="r">↩</tspan></text>
<text x="162.3" y="3663.5">&lt;/li&gt;<tspan class="r">↩</tspan></text>
<text x="100.5" y="3678.5"><tspan class="r">↩</tspan></text>
<text x="162.3" y="3693.5">&lt;!-- Genre Dropdown --&gt; <tspan class="r">↩</tspan></text>
<text x="162.3" y="3708.5">&lt;li class="nav-item dropdown"&gt;<tspan class="r">↩</tspan></text>
<text x="193.1" y="3723.5">&lt;a class="font-weight-bold nav-link text-black " href="#" id="genre-link" data-toggle="dropdown" aria-haspopup="true" aria-expanded="false"&gt;<tspan class="r">↩</tspan></text>
<text x="224" y="3738.5">Genre<tspan class="r">↩</tspan></text>
<text x="193.1" y="3753.5">&lt;/a&gt;<tspan class="r">↩</tspan></text>
<text x="193.1" y="3768.5">&lt;div class="dropdown-menu border-0" aria-labelledby="genre-link"&gt;<tspan class="r">↩</tspan></text>
<text x="224" y="3783.5">&lt;a href="/games/?genre=adventure" class="dropdown-item"&gt;Adventure&lt;/a&gt;<tspan class="r">↩</tspan></text>
<text x="224" y="3798.5">&lt;a href="/games/?genre=arcade" class="dropdown-item"&gt;Arcade&lt;/a&gt;<tspan class="r">↩</tspan></text>
<text x="224" y="3813.5">&lt;a href="/games/?genre=platform" class="dropdown-item"&gt;Platform&lt;/a&gt;<tspan class="r">↩</tspan></text>
<text x="224" y="3828.5">&lt;a href="/games/?genre=shooter" class="dropdown-item"&gt;Shooter&lt;/a&gt;<tspan class="r">↩</tspan></text>
<text x="224" y="3843.5">&lt;a href="/games/?genre=sport" class="dropdown-item"&gt;Sport&lt;/a&gt;<tspan class="r">↩</tspan></text>
<text x="224" y="3858.5">&lt;a href="/games/?genre=simulator" class="dropdown-item"&gt;Simulator&lt;/a&gt;<tspan class="r">↩</tspan></text>
<text x="224" y="3873.5">&lt;a href="/games/?genre=rpg" class="dropdown-item"&gt;RPG&lt;/a&gt;<tspan class="r">↩</tspan></text>
<text x="224" y="3888.5">&lt;a href="/games/?genre=turn_based_strategy" class="dropdown-item"&gt;Turn Based Strategy&lt;/a&gt;<tspan class="r">↩</tspan></text>
<text x="224" y="3903.5">&lt;a href="/games/?genre=tactical" class="dropdown-item"&gt;Tactical&lt;/a&gt;<tspan class="r">↩</tspan></text>
<text x="224" y="3918.5">&lt;a href="/games/?genre=racing" class="dropdown-item"&gt;Racing&lt;/a&gt;<tspan class="r">↩</tspan></text>
<text x="224" y="3933.5">&lt;a href="/games/?genre=puzzle" class="dropdown-item"&gt;Puzzle&lt;/a&gt;<tspan class="r">↩</tspan></text>
<text x="224" y="3948.5">&lt;a href="/games/?genre=fighting" class="dropdown-item"&gt;Fighting&lt;/a&gt;<tspan class="r">↩</tspan></text>
<text x="224" y="3963.5">&lt;a href="/games/?genre=brawler" class="dropdown-item"&gt;Brawler&lt;/a&gt;<tspan class="r">↩</tspan></text>
<text x="224" y="3978.5">&lt;a href="/games/?genre=strategy" class="dropdown-item"&gt;Strategy&lt;/a&gt;<tspan class="r">↩</tspan></text>
<text x="224" y="3993.5">&lt;a href="/games/?genre=visual_novel" class="dropdown-item"&gt;Visual Novel&lt;/a&gt;<tspan class="r">↩</tspan></text>
<text x="224" y="4008.5">&lt;a href="/games/?genre=point_and_click" class="dropdown-item"&gt;Point-and-Click&lt;/a&gt;<tspan class="r">↩</tspan></text>
<text x="224" y="4023.5">&lt;a href="/games/?genre=indie" class="dropdown-item"&gt;Indie&lt;/a&gt;<tspan class="r">↩</tspan></text>
<text x="224" y="4038.5">&lt;a href="/games/?genre=music" class="dropdown-item"&gt;Music&lt;/a&gt;<tspan class="r">↩</tspan></text>
<text x="224" y="4053.5">&lt;a href="/games/?genre=card_and_board_game" class="dropdown-item"&gt;Card &amp; Board Game&lt;/a&gt;<tspan class="r">↩</tspan></text>
<text x="224" y="4068.5">&lt;a href="/games/" class="dropdown-item"&gt;All Genres&lt;/a&gt;<tspan class="r">↩</tspan></text>
<text x="200.9" y="4083.5"><tspan class="r">↩</tspan></text>
<text x="193.1" y="4098.5">&lt;/div&gt;<tspan class="r">↩</tspan></text>
<text x="162.3" y="4113.5">&lt;/li&gt;<tspan class="r">↩</tspan></text>
<text x="100.5" y="4128.5"><tspan class="r">↩</tspan></text>
<text x="162.3" y="4143.5">&lt;!-- Category Dropdown --&gt;<tspan class="r">↩</tspan></text>
<text x="162.3" y="4158.5">&lt;li class="nav-item dropdown"&gt;<tspan class="r">↩</tspan></text>
<text x="193.1" y="4173.5">&lt;a class="font-weight-bold nav-link text-black " href="#" id="category-link" data-toggle="dropdown" aria-haspopup="true" aria-expanded="false"&gt;<tspan class="r">↩</tspan></text>
<text x="224" y="4188.5">Category<tspan class="r">↩</tspan></text>
<text x="193.1" y="4203.5">&lt;/a&gt;<tspan class="r">↩</tspan></text>
<text x="193.1" y="4218.5">&lt;div class="dropdown-menu border-0" aria-labelledby="category-link"&gt;<tspan class="r">↩</tspan></text>
<text x="224" y="4233.5">&lt;a href="/games/?category=top_sellers" class="dropdown-item"&gt;Top Sellers&lt;/a&gt;<tspan class="r">↩</tspan></text>
<text x="224" y="4248.5">&lt;a href="/games/?category=all_time_classics" class="dropdown-item"&gt;All-Time Classics&lt;/a&gt;<tspan class="r">↩</tspan></text>
<text x="224" y="4263.5">&lt;a href="/games/?category=staff_picks" class="dropdown-item"&gt;Staff Picks&lt;/a&gt;<tspan class="r">↩</tspan></text>
<text x="224" y="4278.5">&lt;a href="/games/?category=retro_remasters" class="dropdown-item"&gt;Retro Remasters&lt;/a&gt;<tspan class="r">↩</tspan></text>
<text x="193.1" y="4293.5">&lt;/div&gt;<tspan class="r">↩</tspan></text>
<text x="162.3" y="4308.5">&lt;/li&gt;<tspan class="r">↩</tspan></text>
<text x="100.5" y="4323.5"><tspan class="r">↩</tspan></text>
<text x="162.3" y="4338.5">&lt;!-- Special Offers Dropdown --&gt;<tspan class="r">↩</tspan></text>
<text x="162.3" y="4353.5">&lt;li class="nav-item dropdown"&gt;<tspan class="r">↩</tspan></text>
<text x="193.1" y="4368.5">&lt;a class="font-weight-bold nav-link text-black" href="#" id="specials-link" data-toggle="dropdown" aria-haspopup="true" aria-expanded="false"&gt;<tspan class="r">↩</tspan></text>
<text x="224" y="4383.5">Special Offers<tspan class="r">↩</tspan></text>
<text x="193.1" y="4398.5">&lt;/a&gt;<tspan class="r">↩</tspan></text>
<text x="193.1" y="4413.5">&lt;div class="dropdown-menu border-0" aria-labelledby="specials-link"&gt;<tspan class="r">↩</tspan></text>
<text x="224" y="4428.5">&lt;a href="/games/?category=bundle_deals" class="dropdown-item"&gt;Bundle Deals&lt;/a&gt;<tspan class="r">↩</tspan></text>
<text x="224" y="4443.5">&lt;a href="/games/?category=discounted_games" class="dropdown-item"&gt;Discounted Games&lt;/a&gt;<tspan class="r">↩</tspan></text>
<text x="224" y="4458.5">&lt;a href="/games/?category=seasonal_specials" class="dropdown-item"&gt;Seasonal Specials&lt;/a&gt;<tspan class="r">↩</tspan></text>
<text x="224" y="4473.5">&lt;a href="/games/?category=bundle_deals,discounted_games,seasonal_specials" class="dropdown-item"&gt;All Specials&lt;/a&gt;<tspan class="r">↩</tspan></text>
<text x="193.1" y="4488.5">&lt;/div&gt;<tspan class="r">↩</tspan></text>
<text x="162.3" y="4503.5">&lt;/li&gt;<tspan class="r">↩</tspan></text>
<text x="100.5" y="4518.5"><tspan class="r">↩</tspan></text>
<text x="131.4" y="4533.5">&lt;/ul&gt;<tspan class="r">↩</tspan></text>
<text x="100.5" y="4548.5">&lt;/div&gt;<tspan class="r">↩</tspan></text>
<text x="100.5" y="4563.5"><tspan class="r">↩</tspan></text>
<text x="193.1" y="4578.5">&lt;/nav&gt;<tspan class="r">↩</tspan></text>
<text x="162.3" y="4593.5">&lt;/div&gt;<tspan class="r">↩</tspan></text>
<text x="100.5" y="4608.5"><tspan class="r">↩</tspan></text>
<text x="131.4" y="4623.5">&lt;/header&gt;<tspan class="r">↩</tspan></text>
<text x="100.5" y="4638.5"><tspan class="r">↩</tspan></text>
<text x="131.4" y="4653.5"><tspan class="r">↩</tspan></text>
<text x="100.5" y="4668.5"><tspan class="r">↩</tspan></text>
<text x="131.4" y="4683.5"><tspan class="r">↩</tspan></text>
<text x="131.4" y="4698.5"><tspan class="r">↩</tspan></text>
<text x="100.5" y="4713.5"><tspan class="r">↩</tspan></text>
<text x="131.4" y="4728.5"><tspan class="r">↩</tspan></text>
<text x="131.4" y="4743.5">&lt;div class="container header-container"&gt;<tspan class="r">↩</tspan></text>
<text x="162.3" y="4758.5"><tspan class="r">↩</tspan></text>
<text x="162.3" y="4773.5">&lt;div class="row d-flex justify-content-center align"&gt;<tspan class="r">↩</tspan></text>
<text x="193.1" y="4788.5">&lt;div class="col-12 col-md-6"&gt;<tspan class="r">↩</tspan></text>
<text x="224" y="4803.5">&lt;div class="allauth-form-inner-content"&gt;<tspan class="r">↩</tspan></text>
<text x="254.9" y="4818.5"><tspan class="r">↩</tspan></text>
<text x="100.5" y="4833.5">&lt;div class="offwhite-background mt-5 p-2"&gt;<tspan class="r">↩</tspan></text>
<text x="131.4" y="4848.5">&lt;hr&gt;<tspan class="r">↩</tspan></text>
<text x="131.4" y="4863.5">&lt;h2 class="logo-font mb-4"&gt;Password Reset&lt;/h2&gt;<tspan class="r">↩</tspan></text>
<text x="131.4" y="4878.5">&lt;hr&gt;<tspan class="r">↩</tspan></text>
<text x="131.4" y="4893.5"><tspan class="r">↩</tspan></text>
<text x="131.4" y="4908.5"><tspan class="r">↩</tspan></text>
<text x="131.4" y="4923.5"><tspan class="r">↩</tspan></text>
<text x="131.4" y="4938.5">&lt;p&gt;We have sent you an e-mail. Please contact us if you do not receive it within a few minutes.&lt;/p&gt;<tspan class="r">↩</tspan></text>
<text x="100.5" y="4953.5">&lt;/div&gt;<tspan class="r">↩</tspan></text>
<text x="100.5" y="4968.5"><tspan class="r">↩</tspan></text>
<text x="224" y="4983.5">&lt;/div&gt;<tspan class="r">↩</tspan></text>
<text x="193.1" y="4998.5">&lt;/div&gt;<tspan class="r">↩</tspan></text>
<text x="162.3" y="5013.5">&lt;/div&gt;<tspan class="r">↩</tspan></text>
<text x="131.4" y="5028.5">&lt;/div&gt;<tspan class="r">↩</tspan></text>
<text x="100.5" y="5043.5"><tspan class="r">↩</tspan></text>
<text x="100.5" y="5058.5"><tspan class="r">↩</tspan></text>
<text x="131.4" y="5073.5"><tspan class="r">↩</tspan></text>
<text x="131.4" y="5088.5">&lt;script&gt;<tspan class="r">↩</tspan></text>
<text x="162.3" y="5103.5">$('.toast').toast('show');<tspan class="r">↩</tspan></text>
<text x="131.4" y="5118.5">&lt;/script&gt;<tspan class="r">↩</tspan></text>
<text x="131.4" y="5133.5"><tspan class="r">↩</tspan></text>
<text x="100.5" y="5148.5"><tspan class="r">↩</tspan></text>
<text x="131.4" y="5163.5">&lt;!-- Footer section --&gt;<tspan class="r">↩</tspan></text>
<text x="131.4" y="5178.5">&lt;footer class="offwhite-background py-4"&gt;<tspan class="r">↩</tspan></text>
<text x="162.3" y="5193.5">&lt;div class="container"&gt;<tspan class="r">↩</tspan></text>
<text x="193.1" y="5208.5">&lt;div class="row"&gt;<tspan class="r">↩</tspan></text>
<text x="224" y="5223.5">&lt;!-- Contact information--&gt;<tspan class="r">↩</tspan></text>
<text x="224" y="5238.5">&lt;div class="col-md-4"&gt;<tspan class="r">↩</tspan></text>
<text x="254.9" y="5253.5">&lt;p class="footer-text"&gt;Contact Us&lt;/p&gt;<tspan class="r">↩</tspan></text>
<text x="100.5" y="5268.5"><tspan class="r">↩</tspan></text>
<text x="254.9" y="5283.5">&lt;p&gt;Email: &lt;a href="mailto:info@8bitbazaar.co.uk" class="email"&gt;info@8bitbazaar.co.uk&lt;/a&gt;&lt;/p&gt;<tspan class="r">↩</tspan></text>
<text x="224" y="5298.5">&lt;/div&gt;<tspan class="r">↩</tspan></text>
<text x="224" y="5313.5">&lt;div class="col-md-4"&gt;<tspan class="r">↩</tspan></text>
<text x="254.9" y="5328.5">&lt;p class="footer-text"&gt;Connect with Us&lt;/p&gt;<tspan class="r">↩</tspan></text>
<text x="254.9" y="5343.5">&lt;!-- Social media links with Font Awesome icons --&gt;<tspan class="r">↩</tspan></text>
<text x="254.9" y="5358.5">&lt;a class="btn btn-primary btn-floating m-1 facebook"<tspan class="r">↩</tspan></text>
<text x="285.8" y="5373.5">href="https://www.facebook.com/profile.php?id=61556897555658" target="_blank"<tspan class="r">↩</tspan></text>
<text x="285.8" y="5388.5">rel="noopener noreferrer" aria-label="Facebook (opens in a new tab)"&gt;<tspan class="r">↩</tspan></text>
<text x="285.8" y="5403.5">&lt;i class="fab fa-facebook-f"&gt;&lt;/i&gt;<tspan class="r">↩</tspan></text>
<text x="254.9" y="5418.5">&lt;/a&gt;<tspan class="r">↩</tspan></text>
<text x="254.9" y="5433.5">&lt;a class="btn btn-primary btn-floating m-1 twitter" href="https://twitter.com/?lang=en-gb"<tspan class="r">↩</tspan></text>
<text x="285.8" y="5448.5">target="_blank" rel="noopener noreferrer" aria-label="Twitter (opens in a new tab)"&gt;<tspan class="r">↩</tspan></text>
<text x="285.8" y="5463.5">&lt;i class="fab fa-twitter"&gt;&lt;/i&gt;<tspan class="r">↩</tspan></text>
<text x="254.9" y="5478.5">&lt;/a&gt;<tspan class="r">↩</tspan></text>
<text x="254.9" y="5493.5">&lt;a class="btn btn-primary btn-floating m-1 instagram" href="https://www.instagram.com/"<tspan class="r">↩</tspan></text>
<text x="285.8" y="5508.5">target="_blank" rel="noopener noreferrer" aria-label="Instagram (opens in a new tab)"&gt;<tspan class="r">↩</tspan></text>
<text x="285.8" y="5523.5">&lt;i class="fab fa-instagram"&gt;&lt;/i&gt;<tspan class="r">↩</tspan></text>
<text x="254.9" y="5538.5">&lt;/a&gt;<tspan class="r">↩</tspan></text>
<text x="224" y="5553.5">&lt;/div&gt;<tspan class="r">↩</tspan></text>
<text x="100.5" y="5568.5"><tspan class="r">↩</tspan></text>
<text x="224" y="5583.5">&lt;!-- About 8Bit Bazaar --&gt;<tspan class="r">↩</tspan></text>
<text x="224" y="5598.5">&lt;div class="col-md-4"&gt;<tspan class="r">↩</tspan></text>
<text x="254.9" y="5613.5">&lt;p class="footer-text"&gt;About 8Bit Bazaar&lt;/p&gt;<tspan class="r">↩</tspan></text>
<text x="254.9" y="5628.5">&lt;p&gt;Retro Gaming redefined. Buy your favourite games online and download on Steam!&lt;/p&gt;<tspan class="r">↩</tspan></text>
<text x="224" y="5643.5">&lt;/div&gt;<tspan class="r">↩</tspan></text>
<text x="193.1" y="5658.5">&lt;/div&gt;<tspan class="r">↩</tspan></text>
<text x="193.1" y="5673.5">&lt;hr class="my-4"&gt;<tspan class="r">↩</tspan></text>
<text x="193.1" y="5688.5">&lt;div class="row"&gt;<tspan class="r">↩</tspan></text>
<text x="224" y="5703.5">&lt;!-- Copyright information--&gt;<tspan class="r">↩</tspan></text>
<text x="224" y="5718.5">&lt;div class="col-md-6"&gt;<tspan class="r">↩</tspan></text>
<text x="254.9" y="5733.5">&lt;p&gt;&amp;copy; 2024 8Bit Bazaar. All rights reserved.&lt;/p&gt;<tspan class="r">↩</tspan></text>
<text x="224" y="5748.5">&lt;/div&gt;<tspan class="r">↩</tspan></text>
<text x="224" y="5763.5">&lt;div class="col-md-6 text-right"&gt;<tspan class="r">↩</tspan></text>
<text x="254.9" y="5778.5">&lt;a href="/privacy_policy/"&gt;Privacy Policy&lt;/a&gt;<tspan class="r">↩</tspan></text>
<text x="224" y="5793.5">&lt;/div&gt;<tspan class="r">↩</tspan></text>
<text x="193.1" y="5808.5">&lt;/div&gt;<tspan class="r">↩</tspan></text>
<text x="162.3" y="5823.5">&lt;/div&gt;<tspan class="r">↩</tspan></text>
<text x="131.4" y="5838.5">&lt;/footer&gt;<tspan class="r">↩</tspan></text>
<text x="131.4" y="5853.5"><tspan class="r">↩</tspan></text>
<text x="100.5" y="5868.5">&lt;/body&gt;<tspan class="r">↩</tspan></text>
<text x="100.5" y="5883.5"><tspan class="r">↩</tspan></text>
<text x="100.5" y="5898.5">&lt;/html&gt;</text>
</g>
</g>
<g id="stats">
<text class="s" x="58" y="5940" font-size="13" fill="#333">Used the HTML parser.</text>
<text class="s" x="58" y="5962" font-size="13" fill="#333">Total execution time 9 milliseconds.</text>
</g>
<g id="footer">
<line x1="58" y1="5990.5" x2="1871" y2="5990.5" stroke="#ccc"/>
<text class="s" x="58" y="6014" font-size="13" fill="#333"><tspan class="lnk">About this checker</tspan> • <tspan class="lnk">Report an issue</tspan> • Version: 24.7.30</text>
</g>
</svg>
